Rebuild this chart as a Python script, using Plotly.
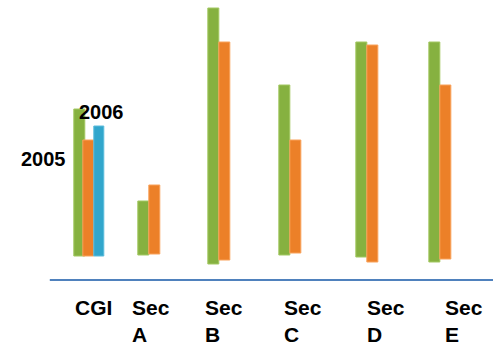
import plotly.graph_objects as go

categories = ["CGI", "Sec A", "Sec B", "Sec C", "Sec D", "Sec E"]
tick_labels = ["CGI", "Sec<br>A", "Sec<br>B", "Sec<br>C", "Sec<br>D", "Sec<br>E"]

# bar tops and bottoms (3-D perspective makes bottoms vary slightly)
top_2005 = [171, 79, 272, 195, 238, 238]
base_2005 = [24, 25, 16, 25, 23, 18]
top_2006 = [140, 95, 238, 140, 235, 195]
base_2006 = [24, 26, 20, 27, 18, 21]
top_cgi = [154]
base_cgi = [24]
series_labels = ["2005", "2006"]

GREEN = "#86b140"
ORANGE = "#ec8028"
BLUE = "#31a6cc"

unit = 1 / 71.0  # category units per pixel
label_nudge = [-8, -22, -20, -12, 0, 7]  # px, perspective layout of the labels

fig = go.Figure()
fig.add_trace(go.Bar(
    x=categories, y=[t - b for t, b in zip(top_2005, base_2005)], base=base_2005,
    width=11 * unit, offset=[-7 * unit, -14 * unit, -15 * unit, -15 * unit, -9 * unit, -7 * unit],
    marker=dict(color=GREEN, line=dict(color="#a3c862", width=1)),
    name="2005", showlegend=False, hoverinfo="skip"))
fig.add_trace(go.Bar(
    x=categories, y=[t - b for t, b in zip(top_2006, base_2006)], base=base_2006,
    width=11 * unit, offset=[2 * unit, -3 * unit, -4 * unit, -4 * unit, 2 * unit, 4 * unit],
    marker=dict(color=ORANGE, line=dict(color="#f9a25a", width=1)),
    name="2006", showlegend=False, hoverinfo="skip"))
fig.add_trace(go.Bar(
    x=categories[:1], y=[t - b for t, b in zip(top_cgi, base_cgi)], base=base_cgi,
    width=10 * unit, offset=[13 * unit],
    marker=dict(color=BLUE, line=dict(color="#5cbcdc", width=1)),
    name="CGI", showlegend=False, hoverinfo="skip"))

FONT = "Arial, Liberation Sans, sans-serif"
annotations = []
for cat, lab, nudge in zip(categories, tick_labels, label_nudge):
    annotations.append(dict(
        x=cat, y=-14, xref="x", yref="y", text=lab, showarrow=False,
        xanchor="left", yanchor="top", align="left", xshift=nudge,
        font=dict(family=FONT, size=21, color="#000000", weight="bold")))
annotations.append(dict(x=0.089, xref="paper", xanchor="center", y=280 - 159, yref="y",
                        text=series_labels[0], showarrow=False,
                        font=dict(family=FONT, size=20, color="#000000", weight="bold")))
annotations.append(dict(x=0.205, xref="paper", xanchor="center", y=280 - 112, yref="y",
                        text=series_labels[1], showarrow=False,
                        font=dict(family=FONT, size=20, color="#000000", weight="bold")))

fig.update_layout(
    width=493, height=350,
    margin=dict(l=0, r=0, t=0, b=0),
    paper_bgcolor="white", plot_bgcolor="white",
    barmode="overlay",
    xaxis=dict(type="category", range=[-1.138, 5.805], visible=False, fixedrange=True),
    yaxis=dict(range=[-70, 280], visible=False, fixedrange=True),
    annotations=annotations,
    shapes=[dict(type="line", xref="paper", yref="y", x0=0.101, x1=1, y0=0, y1=0,
                 line=dict(color="#4f81bd", width=2))],
)

fig.write_html("out.html", config={"displayModeBar": False},
               post_script="document.body.style.margin='0';document.body.style.overflow='hidden';")
